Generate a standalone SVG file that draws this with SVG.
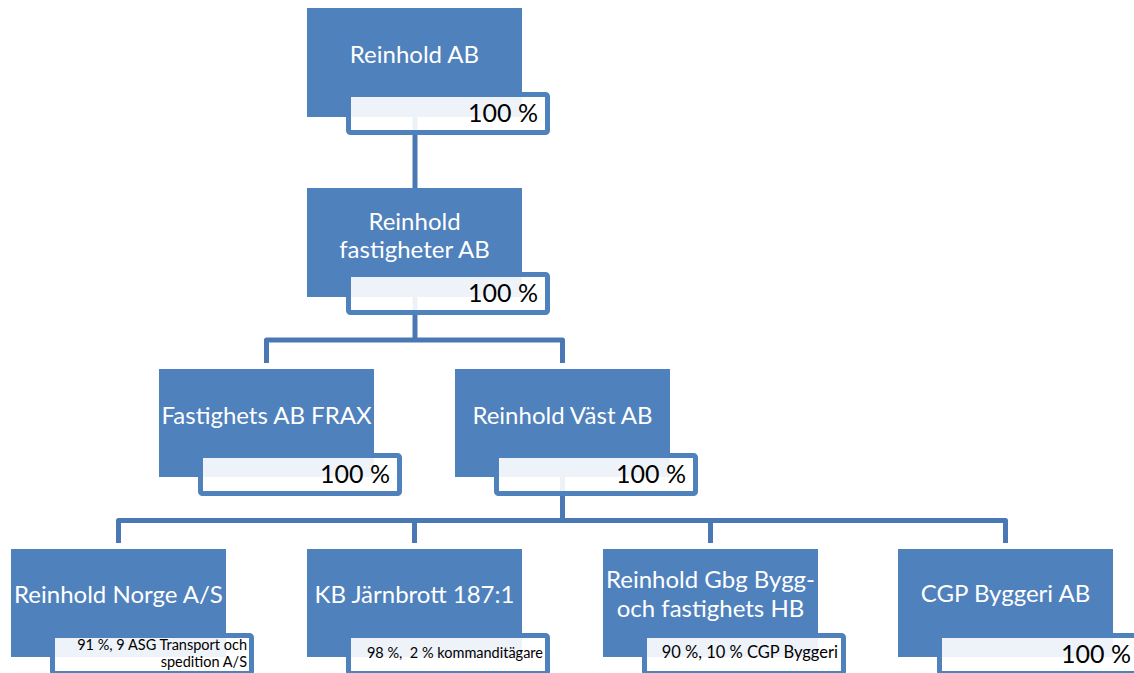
<svg xmlns="http://www.w3.org/2000/svg" width="1134" height="673" viewBox="0 0 1134 673">
<style>
.box{fill:#4f81bd;}
.lbl{fill:#ffffff;fill-opacity:0.9;stroke:#4f81bd;stroke-width:5;}
.conn{fill:none;stroke:#4a78b4;stroke-width:5;stroke-linejoin:round;}
.t{font-family:Lato,"Open Sans",sans-serif;font-size:24px;fill:#ffffff;text-anchor:middle;}
.p{font-family:Lato,"Open Sans",sans-serif;font-size:25px;fill:#000000;text-anchor:end;}
.s{font-family:Lato,"Open Sans",sans-serif;font-size:14.5px;fill:#000000;text-anchor:end;}
.m{font-family:Lato,"Open Sans",sans-serif;font-size:16.5px;fill:#000000;text-anchor:end;}
</style>
<rect width="1134" height="673" fill="#ffffff"/>
<g id="connectors">
<path class="conn" d="M415,117 V188"/>
<path class="conn" d="M415,297 V340"/>
<path class="conn" d="M266.5,363 V340 H562.5 V363"/>
<path class="conn" d="M562.5,477 V520.5"/>
<path class="conn" d="M118.5,543 V520.5 H1005.5 V543"/>
<path class="conn" d="M414.5,520.5 V543"/>
<path class="conn" d="M710.5,520.5 V543"/>
</g>
<g id="n1">
<rect class="box" x="307" y="8" width="215" height="109"/>
<text class="t" x="414.5" y="63">Reinhold AB</text>
<rect class="lbl" x="348.5" y="94.5" width="199" height="38" rx="2"/>
<text class="p" x="538" y="122">100 %</text>
</g>
<g id="n2">
<rect class="box" x="307" y="188" width="215" height="109"/>
<text class="t" x="414.5" y="230">Reinhold</text>
<text class="t" x="414.5" y="258">fastigheter AB</text>
<rect class="lbl" x="348.5" y="274.5" width="199" height="38" rx="2"/>
<text class="p" x="538" y="302">100 %</text>
</g>
<g id="n3">
<rect class="box" x="159" y="369" width="215" height="108"/>
<text class="t" x="266.5" y="424">Fastighets AB FRAX</text>
<rect class="lbl" x="200.5" y="455.5" width="199" height="38" rx="2"/>
<text class="p" x="390" y="483">100 %</text>
</g>
<g id="n4">
<rect class="box" x="455" y="369" width="215" height="108"/>
<text class="t" x="562.5" y="424">Reinhold Väst AB</text>
<rect class="lbl" x="496.5" y="455.5" width="199" height="38" rx="2"/>
<text class="p" x="686" y="483">100 %</text>
</g>
<g id="n5">
<rect class="box" x="11" y="549" width="215" height="108"/>
<text class="t" x="118.5" y="603">Reinhold Norge A/S</text>
<rect class="lbl" x="52.5" y="635.5" width="199" height="38" rx="2"/>
<text class="s" x="247" y="650">91 %, 9 ASG Transport och</text>
<text class="s" x="247" y="667">spedition A/S</text>
</g>
<g id="n6">
<rect class="box" x="307" y="549" width="215" height="108"/>
<text class="t" x="414.5" y="603">KB Järnbrott 187:1</text>
<rect class="lbl" x="348.5" y="635.5" width="199" height="38" rx="2"/>
<text class="s" x="543" y="658" xml:space="preserve">98 %,  2 % kommanditägare</text>
</g>
<g id="n7">
<rect class="box" x="603" y="549" width="215" height="108"/>
<text class="t" x="710.5" y="588">Reinhold Gbg Bygg-</text>
<text class="t" x="710.5" y="617">och fastighets HB</text>
<rect class="lbl" x="644.5" y="635.5" width="199" height="38" rx="2"/>
<text class="m" x="838" y="658">90 %, 10 % CGP Byggeri</text>
</g>
<g id="n8">
<rect class="box" x="898" y="549" width="215" height="108"/>
<text class="t" x="1005.5" y="602">CGP Byggeri AB</text>
<rect class="lbl" x="939.5" y="635.5" width="199" height="38" rx="2"/>
<text class="p" x="1131" y="663">100 %</text>
</g>
</svg>
